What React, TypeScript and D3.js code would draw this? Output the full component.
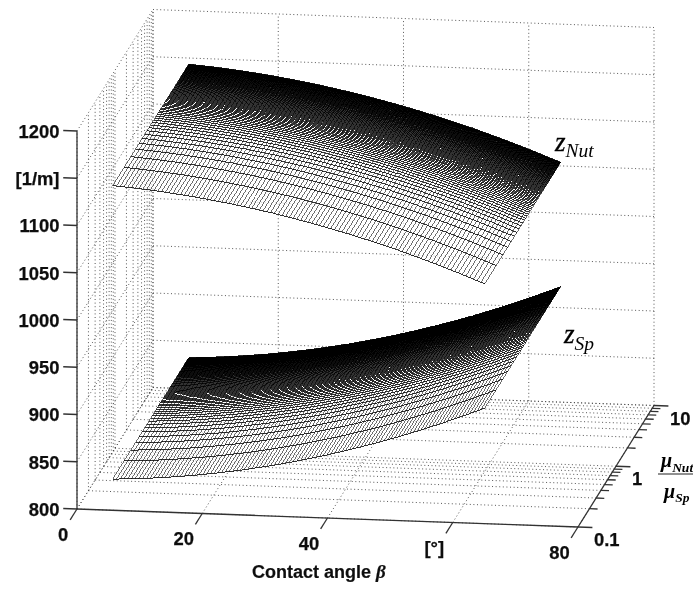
import React, { useEffect, useRef } from 'react'
import * as d3 from 'd3'

// axis ticks
const zTicks = [800, 850, 900, 950, 1000, 1050, 1100, 1150, 1200]
const zTickLabels = ['800', '850', '900', '950', '1000', '1050', '1100', '[1/m]', '1200']
const betaTicks = [0, 20, 40, 60, 80]
const betaTickLabels = ['0', '20', '40', '[°]', '80']
const muMajor = [0.1, 1, 10]
const muMajorLabels = ['0.1', '1', '10']
const muMinor = [0.1, 0.2, 0.3, 0.4, 0.5, 0.6, 0.7, 0.8, 0.9, 1, 2, 3, 4, 5, 6, 7, 8, 9, 10]

// mesh sampling: contact angle in 0.6 deg steps, mu ratio in 0.1 steps
const betaGrid = d3.range(100).map(i => 5.7 + i * 0.6)
const muGrid = d3.range(1, 101).map(i => i / 10)

// surface heights read along the edges of the two sheets, one per betaGrid entry
const zNut = [
  1143.5, 1143.2, 1142.9, 1142.6, 1142.3, 1142.0, 1141.7, 1141.3, 1141.0, 1140.6,
  1140.2, 1139.8, 1139.4, 1139.0, 1138.5, 1138.1, 1137.6, 1137.1, 1136.6, 1136.1,
  1135.6, 1135.1, 1134.5, 1134.0, 1133.4, 1132.8, 1132.2, 1131.6, 1131.0, 1130.3,
  1129.7, 1129.0, 1128.4, 1127.7, 1127.0, 1126.3, 1125.5, 1124.8, 1124.0, 1123.3,
  1122.5, 1121.7, 1120.9, 1120.1, 1119.3, 1118.4, 1117.6, 1116.7, 1115.8, 1114.9,
  1114.0, 1113.1, 1112.2, 1111.2, 1110.3, 1109.3, 1108.3, 1107.3, 1106.3, 1105.3,
  1104.2, 1103.2, 1102.1, 1101.1, 1100.0, 1098.9, 1097.8, 1096.6, 1095.5, 1094.3,
  1093.2, 1092.0, 1090.8, 1089.6, 1088.4, 1087.2, 1085.9, 1084.7, 1083.4, 1082.1,
  1080.8, 1079.5, 1078.2, 1076.9, 1075.5, 1074.1, 1072.8, 1071.4, 1070.0, 1068.6,
  1067.2, 1065.7, 1064.3, 1062.8, 1061.3, 1059.8, 1058.3, 1056.8, 1055.3, 1053.8,
]
const zSp = [
  833.0, 833.2, 833.4, 833.6, 833.8, 834.0, 834.3, 834.6, 834.8, 835.1,
  835.4, 835.8, 836.1, 836.5, 836.8, 837.2, 837.6, 838.0, 838.5, 838.9,
  839.4, 839.8, 840.3, 840.8, 841.4, 841.9, 842.4, 843.0, 843.6, 844.2,
  844.8, 845.4, 846.0, 846.7, 847.3, 848.0, 848.7, 849.4, 850.2, 850.9,
  851.6, 852.4, 853.2, 854.0, 854.8, 855.6, 856.5, 857.3, 858.2, 859.1,
  860.0, 860.9, 861.9, 862.8, 863.8, 864.7, 865.7, 866.7, 867.8, 868.8,
  869.8, 870.9, 872.0, 873.1, 874.2, 875.3, 876.4, 877.6, 878.8, 879.9,
  881.1, 882.3, 883.6, 884.8, 886.1, 887.3, 888.6, 889.9, 891.2, 892.6,
  893.9, 895.3, 896.6, 898.0, 899.4, 900.9, 902.3, 903.7, 905.2, 906.7,
  908.2, 909.7, 911.2, 912.7, 914.3, 915.9, 917.4, 919.0, 920.6, 922.3,
]

const W = 693
const H = 590
const SANS = '"Liberation Sans", Arial, sans-serif'
const SERIF = '"Liberation Serif", "Times New Roman", serif'

const betaScale = d3.scaleLinear().domain([0, 80]).range([0, 1])
const muScale = d3.scaleLog().domain([0.1, 10]).range([0, 1])
const zScale = d3.scaleLinear().domain([800, 1200]).range([0, 1])

// matlab-style view, close enough to affine
const project = (beta: number, mu: number, z: number): [number, number] => {
  const a = betaScale(beta), b = muScale(mu), c = zScale(z)
  return [77 + a * 501 + b * 76, 509 + a * 18 - b * 121.5 - c * 378]
}

export default function App() {
  const ref = useRef<SVGSVGElement>(null)

  useEffect(() => {
    const svg = d3.select(ref.current)
    svg.selectAll('*').remove()
    svg.append('defs').append('filter').attr('id', 'soft')
      .attr('filterUnits', 'userSpaceOnUse')
      .attr('x', 0).attr('y', 0).attr('width', W).attr('height', H)
      .append('feGaussianBlur').attr('stdDeviation', 0.45)
    const root = svg.append('g').attr('filter', 'url(#soft)')
    root.append('rect').attr('width', W).attr('height', H).attr('fill', '#fff')

    const seg = (g: any, cls: string, data: any[], f: (d: any) => [[number, number], [number, number]]) =>
      g.selectAll('line.' + cls).data(data).join('line').attr('class', cls)
        .attr('x1', (d: any) => f(d)[0][0]).attr('y1', (d: any) => f(d)[0][1])
        .attr('x2', (d: any) => f(d)[1][0]).attr('y2', (d: any) => f(d)[1][1])

    // dotted box grid
    const grid = root.append('g').attr('stroke', '#444').attr('stroke-width', 0.9)
      .attr('stroke-dasharray', '1 2.6').attr('fill', 'none')
    seg(grid, 'wallZ', zTicks, z => [project(0, 0.1, z), project(0, 10, z)])
    seg(grid, 'wallMu', muMinor, m => [project(0, m, 800), project(0, m, 1200)])
    seg(grid, 'backZ', zTicks, z => [project(0, 10, z), project(80, 10, z)])
    seg(grid, 'backBeta', betaTicks, b => [project(b, 10, 800), project(b, 10, 1200)])
    seg(grid, 'floorMu', muMinor, m => [project(0, m, 800), project(80, m, 800)])
    seg(grid, 'floorBeta', betaTicks, b => [project(b, 0.1, 800), project(b, 10, 800)])

    // axes and ticks
    const axes = root.append('g').attr('stroke', '#333').attr('stroke-width', 1.3).attr('fill', 'none')
    seg(axes, 'axis', [0], () => [project(0, 0.1, 800), project(0, 0.1, 1200)])
    seg(axes, 'axisB', [0], () => [project(0, 0.1, 800), project(80, 0.1, 800)])
    seg(axes, 'axisM', [0], () => [project(80, 0.1, 800), project(80, 10, 800)])
    seg(axes, 'tickZ', zTicks, z => [project(0, 0.1, z), project(-2.2, 0.1, z)])
    seg(axes, 'tickB', betaTicks, b => [project(b, 0.1, 800), project(b, 0.066, 800)])
    seg(axes, 'tickM', muMinor, m => [project(80, m, 800), project(muMajor.includes(m) ? 82.3 : 81.3, m, 800)])

    // the two mesh sheets, aliased so the dense rows close up to black as in the print
    const meshLine = d3.line<[number, number]>()
    const drawSheet = (values: number[]) => {
      const g = root.append('g').attr('fill', 'none').attr('shape-rendering', 'crispEdges')
      const top = betaGrid.map((b, i) => project(b, 10, values[i]))
      const front = betaGrid.map((b, i) => project(b, 0.1, values[i]))
      g.append('path').attr('d', meshLine([...front, ...top.reverse()]) + 'Z')
        .attr('fill', '#fff').attr('fill-opacity', 0.7)
      g.selectAll('line.col').data(betaGrid).join('line').attr('class', 'col')
        .attr('stroke', '#4a4a4a').attr('stroke-width', 0.8)
        .attr('x1', (b, i) => project(b, 0.1, values[i])[0]).attr('y1', (b, i) => project(b, 0.1, values[i])[1])
        .attr('x2', (b, i) => project(b, 10, values[i])[0]).attr('y2', (b, i) => project(b, 10, values[i])[1])
      g.selectAll('path.row').data(muGrid).join('path').attr('class', 'row')
        .attr('stroke', '#000').attr('stroke-width', 0.8)
        .attr('d', m => meshLine(betaGrid.map((b, i) => project(b, m, values[i]))))
    }
    drawSheet(zNut)
    drawSheet(zSp)

    // tick labels
    const labels = root.append('g').attr('font-family', SANS).attr('font-weight', 700)
      .attr('font-size', 18.4).attr('fill', '#111').attr('stroke', '#111').attr('stroke-width', 0.25)
    labels.selectAll('text.z').data(zTicks).join('text').attr('class', 'z')
      .attr('x', 59.5).attr('y', z => project(0, 0.1, z)[1] + 6.8).attr('text-anchor', 'end')
      .text((z, i) => zTickLabels[i])
    labels.selectAll('text.b').data(betaTicks).join('text').attr('class', 'b')
      .attr('x', (b, i) => project(b, 0.1, 800)[0] - (i === 0 ? 14 : 18.5))
      .attr('y', b => project(b, 0.1, 800)[1] + 31.5).attr('text-anchor', 'middle')
      .text((b, i) => betaTickLabels[i])
    labels.selectAll('text.m').data(muMajor).join('text').attr('class', 'm')
      .attr('x', m => project(80, m, 800)[0] + 16).attr('y', m => project(80, m, 800)[1] + 19)
      .text((m, i) => muMajorLabels[i])

    // axis title
    const title = root.append('text').attr('x', 252).attr('y', 578)
      .attr('font-family', SANS).attr('font-weight', 700).attr('font-size', 18).attr('fill', '#111')
      .attr('stroke', '#111').attr('stroke-width', 0.2)
    title.append('tspan').text('Contact angle ')
    title.append('tspan').attr('font-style', 'italic').attr('font-family', SERIF).attr('font-size', 19).text('β')

    // surface names and mu ratio
    const serif = root.append('g').attr('font-family', SERIF).attr('font-style', 'italic').attr('fill', '#000')
    const zLabel = (x: number, y: number, sub: string, dy: number) => {
      const t = serif.append('text').attr('x', x).attr('y', y).attr('font-size', 27)
      t.append('tspan').attr('stroke', '#000').attr('stroke-width', 0.3).text('z')
      t.append('tspan').attr('dy', dy).attr('font-size', 19.5).text(sub)
    }
    zLabel(555, 151, 'Nut', 6)
    zLabel(564, 343, 'Sp', 7)

    const frac = (x: number, y: number, sub: string, dy: number) => {
      const t = serif.append('text').attr('x', x).attr('y', y).attr('font-weight', 700).attr('font-size', 20).text('μ')
      t.append('tspan').attr('dy', dy).attr('font-size', 13.5).text(sub)
    }
    frac(661, 467, 'Nut', 5)
    frac(664, 498, 'Sp', 4)
    root.append('line').attr('x1', 658).attr('x2', 693).attr('y1', 474).attr('y2', 474)
      .attr('stroke', '#222').attr('stroke-width', 1.2)
  }, [])

  return <svg ref={ref} width={W} height={H} style={{ position: 'absolute', left: 0, top: 0 }} />
}
